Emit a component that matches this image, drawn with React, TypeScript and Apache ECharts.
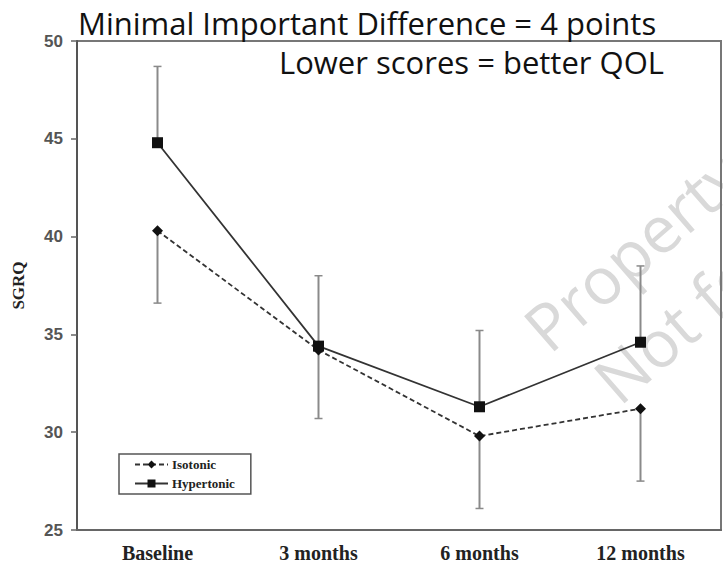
import React, { useEffect, useRef } from "react";
import * as echarts from "echarts";

const categories = ["Baseline", "3 months", "6 months", "12 months"];
const isotonic = [40.3, 34.2, 29.8, 31.2];
const hypertonic = [44.8, 34.4, 31.3, 34.6];
// error bar ends: hypertonic shows upper bar, isotonic shows lower bar
const hypertonicUpper = [48.7, 38.0, 35.2, 38.5];
const isotonicLower = [36.6, 30.7, 26.1, 27.5];
const yTicks = { min: 25, max: 50, interval: 5 };

export default function App() {
  const ref = useRef<HTMLDivElement>(null);
  useEffect(() => {
    document.body.style.margin = "0";
    if (!ref.current) return;
    const chart = echarts.init(ref.current, null, { renderer: "svg" });
    const errData: number[][] = [];
    categories.forEach((_, i) => {
      errData.push([i, hypertonic[i], hypertonicUpper[i]]);
      errData.push([i, isotonicLower[i], isotonic[i]]);
    });
    const errColor = "#8a8a8a";
    const rot = (41 * Math.PI) / 180;
    chart.setOption({
      animation: false,
      backgroundColor: "#ffffff",
      grid: {
        left: 77,
        right: 2,
        top: 41,
        bottom: 36,
        show: true,
        borderColor: "#777",
        borderWidth: 2,
      },
      legend: {
        orient: "vertical",
        left: 119,
        top: 454,
        itemWidth: 33,
        itemHeight: 10,
        itemGap: 6,
        padding: [4, 16, 4, 15],
        borderColor: "#555",
        borderWidth: 1.5,
        data: ["Isotonic", "Hypertonic"],
        textStyle: {
          fontFamily: "Liberation Serif",
          fontWeight: "bold",
          fontSize: 13,
          color: "#222",
          padding: [0, 0, 0, -1],
        },
      },
      xAxis: {
        type: "category",
        data: categories,
        boundaryGap: true,
        axisLine: { show: true, lineStyle: { color: "#666", width: 2 } },
        axisTick: { show: false },
        axisLabel: {
          fontFamily: "Liberation Serif",
          fontWeight: "bold",
          fontSize: 20,
          color: "#222",
          margin: 13,
        },
      },
      yAxis: {
        type: "value",
        min: yTicks.min,
        max: yTicks.max,
        interval: yTicks.interval,
        name: "SGRQ",
        nameLocation: "middle",
        nameRotate: 90,
        nameGap: 50,
        nameTextStyle: {
          fontFamily: "Liberation Serif",
          fontWeight: "bold",
          fontSize: 17,
          color: "#222",
        },
        splitLine: { show: false },
        axisLine: { show: true, lineStyle: { color: "#555", width: 2 } },
        axisTick: { show: true, inside: false, length: 6, lineStyle: { color: "#666", width: 1.5 } },
        axisLabel: {
          fontFamily: "Liberation Sans",
          fontWeight: "bold",
          fontSize: 17,
          color: "#555",
          margin: 14,
        },
      },
      graphic: [
        {
          type: "text",
          left: 78,
          top: 7,
          style: {
            text: "Minimal Important Difference = 4 points",
            fontFamily: "Open Sans",
            fontSize: 31,
            fill: "#111",
          },
        },
        {
          type: "text",
          left: 279,
          top: 46,
          style: {
            text: "Lower scores = better QOL",
            fontFamily: "Open Sans",
            fontSize: 31,
            fill: "#111",
          },
        },
        {
          type: "text",
          x: 512,
          y: 312,
          rotation: rot,
          silent: true,
          z: -10,
          style: {
            text: "Property of",
            fontFamily: "Open Sans",
            fontSize: 65,
            fill: "#d9d9d9",
          },
        },
        {
          type: "text",
          x: 582,
          y: 364,
          rotation: rot,
          silent: true,
          z: -10,
          style: {
            text: "Not for",
            fontFamily: "Open Sans",
            fontSize: 65,
            fill: "#d9d9d9",
          },
        },
      ],
      series: [
        {
          type: "custom",
          name: "err",
          z: 1,
          data: errData,
          renderItem: (params: any, api: any) => {
            const x = api.value(0);
            const p1 = api.coord([x, api.value(1)]);
            const p2 = api.coord([x, api.value(2)]);
            const cap = 4;
            const style = { stroke: errColor, lineWidth: 2 };
            const capStyle = { stroke: errColor, lineWidth: 1.5 };
            return {
              type: "group",
              children: [
                { type: "line", shape: { x1: p1[0], y1: p1[1], x2: p2[0], y2: p2[1] }, style },
                { type: "line", shape: { x1: p1[0] - cap, y1: p1[1], x2: p1[0] + cap, y2: p1[1] }, style: capStyle },
                { type: "line", shape: { x1: p2[0] - cap, y1: p2[1], x2: p2[0] + cap, y2: p2[1] }, style: capStyle },
              ],
            };
          },
        },
        {
          type: "line",
          name: "Isotonic",
          data: isotonic,
          z: 3,
          symbol: "diamond",
          symbolSize: 11,
          itemStyle: { color: "#111" },
          lineStyle: { color: "#333", width: 1.8, type: [5, 3] },
        },
        {
          type: "line",
          name: "Hypertonic",
          data: hypertonic,
          z: 4,
          symbol: "rect",
          symbolSize: 11,
          itemStyle: { color: "#111" },
          lineStyle: { color: "#333", width: 1.8 },
        },
      ],
    });
    return () => chart.dispose();
  }, []);
  return <div ref={ref} style={{ width: 723, height: 566 }} />;
}
